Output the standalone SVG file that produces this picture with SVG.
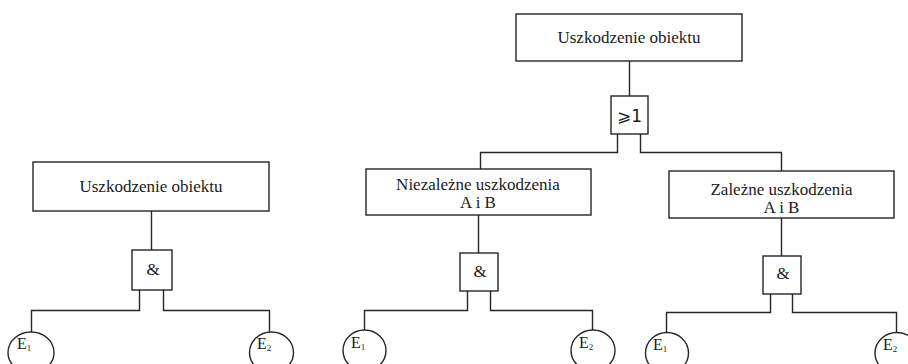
<svg xmlns="http://www.w3.org/2000/svg" width="908" height="364" viewBox="0 0 908 364">
<style>
.box{fill:#fff;stroke:#262626;stroke-width:1.4}
.ln{fill:none;stroke:#262626;stroke-width:1.4}
.t{font-size:17px;fill:#1a1a1a;text-anchor:middle}
.e{font-size:16px;fill:#1a1a1a}
.s{font-size:9px}
.g{font-size:17px;fill:#1a1a1a;text-anchor:middle}
</style>
<rect width="908" height="364" fill="#fff"/>
<g id="connectors">
<path class="ln" d="M151.5 211V250"/>
<path class="ln" d="M139.5 290V310.5H31.5V332"/>
<path class="ln" d="M163.5 290V310.5H269.5V332"/>
<path class="ln" d="M629.5 61V96"/>
<path class="ln" d="M617.5 134V152.5H480.5V169"/>
<path class="ln" d="M640.5 134V152.5H781.5V171"/>
<path class="ln" d="M478.5 215V253"/>
<path class="ln" d="M467.5 291V310.5H364.5V330"/>
<path class="ln" d="M490.5 291V310.5H592.5V330"/>
<path class="ln" d="M781.5 218V256"/>
<path class="ln" d="M770.5 294V312.5H666.5V333"/>
<path class="ln" d="M792.5 294V312.5H896.5V333"/>
</g>
<g font-family="'Liberation Serif', 'Times New Roman', Times, serif">
<g id="left-top">
<rect class="box" x="33" y="162" width="236" height="49"/>
<text class="t" x="151" y="192">Uszkodzenie obiektu</text>
</g>
<g id="left-and">
<rect class="box" x="132" y="250" width="40" height="40"/>
<text class="t" x="153" y="275">&amp;</text>
</g>
<g id="left-e1">
<ellipse class="box" cx="31" cy="352.5" rx="23" ry="20.5"/>
<text class="e" x="17" y="349">E<tspan class="s" dy="2">1</tspan></text>
</g>
<g id="left-e2">
<ellipse class="box" cx="271.5" cy="352.5" rx="22" ry="20.5"/>
<text class="e" x="257" y="349">E<tspan class="s" dy="2">2</tspan></text>
</g>
<g id="top">
<rect class="box" x="516" y="14" width="226" height="47"/>
<text class="t" x="629" y="43">Uszkodzenie obiektu</text>
</g>
<g id="or-gate">
<rect class="box" x="611" y="96" width="37" height="38"/>
<text class="g" x="629.5" y="122" font-family="'DejaVu Sans', 'Liberation Sans', sans-serif">⩾1</text>
</g>
<g id="indep">
<rect class="box" x="366" y="169" width="225" height="46"/>
<text class="t" x="478" y="190">Niezależne uszkodzenia</text>
<text class="t" x="478" y="208">A i B</text>
</g>
<g id="indep-and">
<rect class="box" x="460" y="253" width="38" height="38"/>
<text class="t" x="480" y="277">&amp;</text>
</g>
<g id="indep-e1">
<ellipse class="box" cx="364.5" cy="350.5" rx="21.5" ry="20.5"/>
<text class="e" x="351" y="348">E<tspan class="s" dy="2">1</tspan></text>
</g>
<g id="indep-e2">
<ellipse class="box" cx="593" cy="350.5" rx="22" ry="20.5"/>
<text class="e" x="579" y="348">E<tspan class="s" dy="2">2</tspan></text>
</g>
<g id="dep">
<rect class="box" x="669" y="171" width="225" height="47"/>
<text class="t" x="781.5" y="195">Zależne uszkodzenia</text>
<text class="t" x="781.5" y="213">A i B</text>
</g>
<g id="dep-and">
<rect class="box" x="763" y="256" width="38" height="38"/>
<text class="t" x="783" y="279">&amp;</text>
</g>
<g id="dep-e1">
<ellipse class="box" cx="667" cy="353" rx="21.5" ry="20.5"/>
<text class="e" x="653" y="350">E<tspan class="s" dy="2">1</tspan></text>
</g>
<g id="dep-e2">
<ellipse class="box" cx="897" cy="353" rx="22" ry="20.5"/>
<text class="e" x="883" y="350">E<tspan class="s" dy="2">2</tspan></text>
</g>
</g>
</svg>
